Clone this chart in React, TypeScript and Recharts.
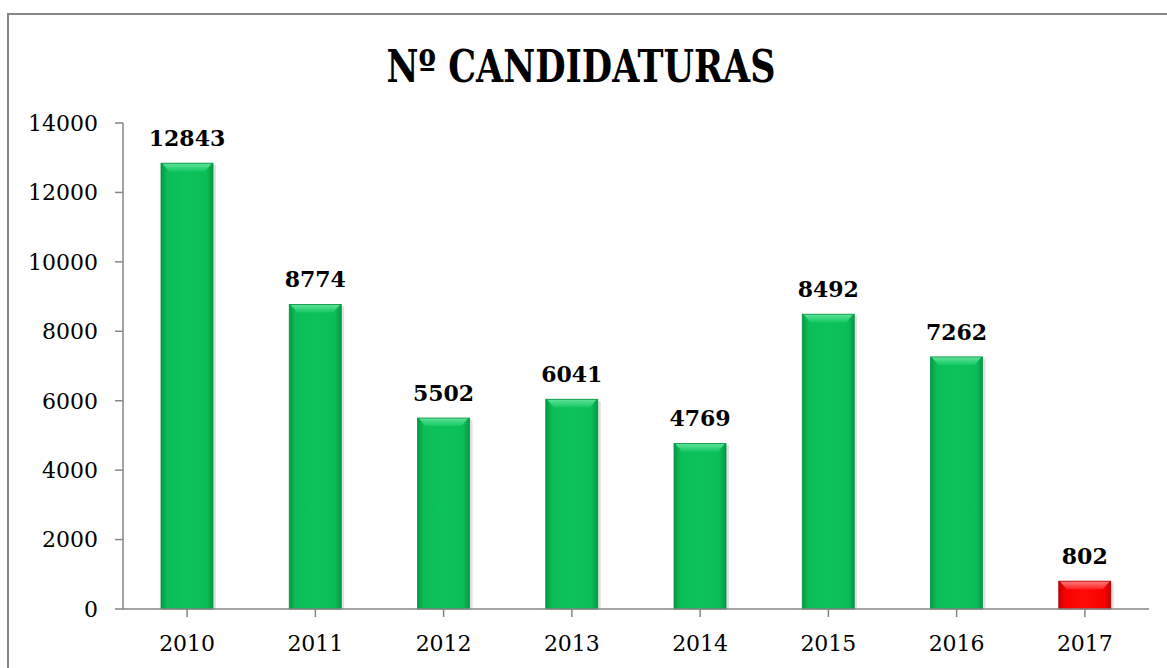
// Nº candidaturas por ano — barras com efeito biselado, 2017 destacado a vermelho.
// isAnimationActive={false} em todas as séries (captura estática).

import { Bar, BarChart, Cell, LabelList, XAxis, YAxis } from 'recharts'

const YEARS = ['2010', '2011', '2012', '2013', '2014', '2015', '2016', '2017']
const CANDIDATURAS = [12843, 8774, 5502, 6041, 4769, 8492, 7262, 802]
const Y_TICKS = [0, 2000, 4000, 6000, 8000, 10000, 12000, 14000]
const HIGHLIGHT_YEAR = '2017'
const TITLE = 'Nº CANDIDATURAS'

const W = 1167
const H = 668
const FONT = '"DejaVu Serif", Cambria, serif'
const AXIS_COLOR = '#868686'

const data = YEARS.map((year, i) => ({ year, value: CANDIDATURAS[i] }))

function BevelBar(props: any) {
  const { x, y, width, height, payload } = props
  if (!height || height <= 0) return null
  const red = payload && payload.year === HIGHLIGHT_YEAR
  const b = Math.min(8, height / 2)
  return (
    <g>
      <rect x={x + 3} y={y + 2} width={width} height={height - 2} fill="#000" opacity={0.12} />
      <rect x={x} y={y} width={width} height={height} fill={red ? 'url(#gRed)' : 'url(#gGreen)'} />
      <polygon
        points={`${x + 1},${y} ${x + width - 1},${y} ${x + width - b},${y + b} ${x + b},${y + b}`}
        fill={red ? 'url(#bRed)' : 'url(#bGreen)'}
      />
      <rect x={x} y={y} width={width} height={height} fill="none" stroke={red ? '#b00000' : '#05903f'} strokeWidth={0.8} />
    </g>
  )
}

export default function App() {
  return (
    <div style={{ position: 'absolute', left: 0, top: 0, width: W, height: H, background: '#fff' }}>
      <BarChart width={W} height={H} data={data} margin={{ top: 123, right: 18, bottom: 29, left: 0 }}>
        <defs>
          <linearGradient id="gGreen" x1="0" y1="0" x2="1" y2="0">
            <stop offset="0%" stopColor="#049a45" />
            <stop offset="12%" stopColor="#0bbd57" />
            <stop offset="50%" stopColor="#0dc25b" />
            <stop offset="88%" stopColor="#0bbd57" />
            <stop offset="100%" stopColor="#049a45" />
          </linearGradient>
          <linearGradient id="gRed" x1="0" y1="0" x2="1" y2="0">
            <stop offset="0%" stopColor="#c80000" />
            <stop offset="12%" stopColor="#f80000" />
            <stop offset="50%" stopColor="#ff0a0a" />
            <stop offset="88%" stopColor="#f80000" />
            <stop offset="100%" stopColor="#c80000" />
          </linearGradient>
          <linearGradient id="bGreen" x1="0" y1="0" x2="0" y2="1">
            <stop offset="0%" stopColor="#5fe39a" />
            <stop offset="100%" stopColor="#17c964" />
          </linearGradient>
          <linearGradient id="bRed" x1="0" y1="0" x2="0" y2="1">
            <stop offset="0%" stopColor="#ff8080" />
            <stop offset="100%" stopColor="#ff2020" />
          </linearGradient>
        </defs>
        <XAxis
          dataKey="year"
          height={30}
          stroke={AXIS_COLOR}
          strokeWidth={1.5}
          tickSize={8}
          tickMargin={18}
          tick={{ fontSize: 22, fill: '#000', fontFamily: FONT }}
          interval={0}
        />
        <YAxis
          width={123}
          domain={[0, 14000]}
          ticks={Y_TICKS}
          stroke={AXIS_COLOR}
          strokeWidth={1.5}
          tickSize={8}
          tickMargin={17}
          tick={{ fontSize: 22, fill: '#000', fontFamily: FONT }}
          interval={0}
        />
        <Bar dataKey="value" barSize={52} shape={BevelBar} isAnimationActive={false}>
          {data.map((d) => (
            <Cell key={d.year} fill={d.year === HIGHLIGHT_YEAR ? '#ff0000' : '#00b050'} />
          ))}
          <LabelList
            dataKey="value"
            position="top"
            offset={17}
            style={{ fontSize: 22, fontWeight: 'bold', fill: '#000', fontFamily: FONT }}
          />
        </Bar>
      </BarChart>
      <svg width={W} height={H} style={{ position: 'absolute', left: 0, top: 0, pointerEvents: 'none' }}>
        <rect x={8} y={14} width={W + 20} height={H + 20} fill="none" stroke={AXIS_COLOR} strokeWidth={2} />
        <text
          x={581}
          y={82}
          textAnchor="middle"
          fontFamily={FONT}
          fontWeight="bold"
          fontSize={44}
          textLength={389}
          lengthAdjust="spacingAndGlyphs"
          fill="#000"
        >
          {TITLE}
        </text>
      </svg>
    </div>
  )
}
